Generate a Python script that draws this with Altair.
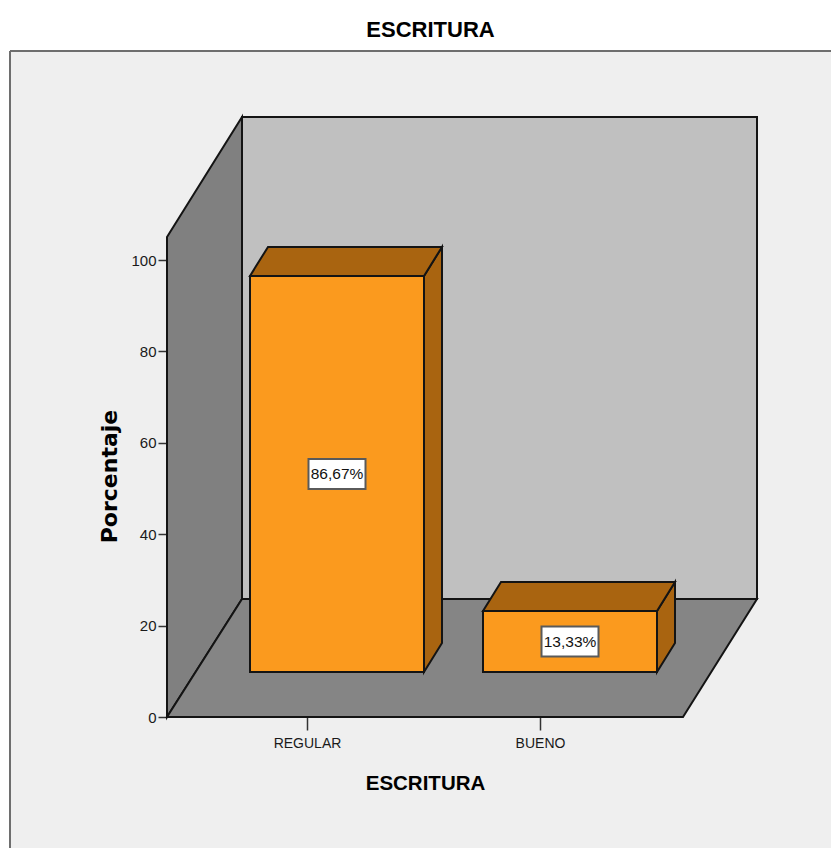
import altair as alt
import pandas as pd

categories = ["REGULAR", "BUENO"]
positions = [1, 2]
values = [86.67, 13.33]
y_ticks = [0, 20, 40, 60, 80, 100]
title_text = "ESCRITURA"
y_title = "Porcentaje"

# Scale set-up: the chart must fit 823 x 840 of page space
PAD_L, PAD_T = 2, 43
W, H = 821, 797
UX, UY = 233.0, 4.57
x_dom = [1 + (10 - 307) / UX, 1 + (10 + W - 307) / UX]
y_dom = [(717 - (51 + H)) / UY, (717 - 51) / UY]
xs = alt.Scale(domain=x_dom, nice=False, zero=False)
ys = alt.Scale(domain=y_dom, nice=False, zero=False)

# Room geometry in data units
room_left = 1 + (167 - 307) / UX
room_right = 1 + (683 - 307) / UX
room_dx = 75 / UX
room_dy = 118 / UY
wall_top = (717 - 237) / UY
half_bar = 87 / UX
bar_base = 45 / UY
bar_shift = 30 / UX
bar_dx = 18 / UX
bar_dy = 29 / UY

LINE = "#141414"
ORANGE = "#FB9A1E"
DARK = "#A96410"
FONT = "Liberation Sans"


def vert(df, fill):
    return alt.Chart(pd.DataFrame(df)).mark_area(
        orient="vertical", fill=fill, stroke=LINE, strokeWidth=2, opacity=1
    ).encode(
        x=alt.X("x:Q", scale=xs, axis=None),
        y=alt.Y("y:Q", scale=ys, axis=None),
        y2="y2:Q",
    )


def horiz(df, fill):
    return alt.Chart(pd.DataFrame(df)).mark_area(
        orient="horizontal", fill=fill, stroke=LINE, strokeWidth=2, opacity=1
    ).encode(
        y=alt.Y("y:Q", scale=ys, axis=None),
        x=alt.X("x:Q", scale=xs, axis=None),
        x2="x2:Q",
    )


# Axes layer (invisible points carry the axes)
axes = alt.Chart(pd.DataFrame({"x": positions, "y": values, "c": categories})).mark_point(opacity=0).encode(
    x=alt.X("x:Q", scale=xs, axis=alt.Axis(
        values=positions,
        labelExpr="datum.value == 1 ? 'REGULAR' : 'BUENO'",
        orient="bottom", offset=-(51 + H - 717), domain=False, grid=False,
        tickSize=13, tickColor="#333333", tickWidth=1.5,
        labelFont=FONT, labelFontSize=14, labelColor="#1a1a1a", labelPadding=6,
        title=title_text, titleFont=FONT, titleFontSize=20.5, titleFontWeight="bold",
        titleColor="#000000", titleX=415, titleY=72, titleAlign="center", titleBaseline="alphabetic",
    )),
    y=alt.Y("y:Q", scale=ys, axis=alt.Axis(
        values=y_ticks,
        orient="left", offset=-157, domain=False, grid=False,
        tickSize=9, tickColor="#333333", tickWidth=1.5,
        labelFont=FONT, labelFontSize=15, labelColor="#1a1a1a", labelPadding=2,
        title=y_title, titleFont="DejaVu Sans", titleFontSize=22, titleFontWeight="bold",
        titleColor="#000000", titleX=-51, titleY=425, titleAngle=270, titleAlign="center", titleBaseline="alphabetic",
    )),
)

# Panel border
panel_left = alt.Chart(pd.DataFrame({"x": [x_dom[0]]})).mark_rule(color="#6e6e6e", strokeWidth=2).encode(
    x=alt.X("x:Q", scale=xs, axis=None))
panel_top = alt.Chart(pd.DataFrame({"y": [y_dom[1]]})).mark_rule(color="#6e6e6e", strokeWidth=2).encode(
    y=alt.Y("y:Q", scale=ys, axis=None))

# Room
left_wall = vert({"x": [room_left, room_left + room_dx],
                  "y": [0, room_dy],
                  "y2": [wall_top, wall_top + 120 / UY]}, "#808080")
back_wall = vert({"x": [room_left + room_dx, room_right + room_dx - 1 / UX],
                  "y": [room_dy, room_dy],
                  "y2": [wall_top + 120 / UY, wall_top + 120 / UY]}, "#C0C0C0")
floor = horiz({"y": [0, room_dy],
               "x": [room_left, room_left + room_dx],
               "x2": [room_right, room_right + room_dx - 1 / UX]}, "#858585")

layers = [axes, panel_left, panel_top, left_wall, back_wall, floor]

# Bars
for p, v in zip(positions, values):
    xl = p - half_bar + bar_shift
    xr = p + half_bar + bar_shift
    top = bar_base + v
    side = vert({"x": [xr, xr + bar_dx],
                 "y": [bar_base, bar_base + bar_dy],
                 "y2": [top, top + bar_dy]}, DARK)
    cap = horiz({"y": [top, top + bar_dy],
                 "x": [xl, xl + bar_dx],
                 "x2": [xr, xr + bar_dx]}, DARK)
    layers += [side, cap]

bars = pd.DataFrame({
    "c": categories,
    "xl": [p - half_bar + bar_shift for p in positions],
    "xr": [p + half_bar + bar_shift for p in positions],
    "y0": [bar_base] * 2,
    "y1": [bar_base + v for v in values],
    "mx": [p + bar_shift for p in positions],
    "my": [bar_base + v / 2 for v in values],
    "label": [f"{v:.2f}".replace(".", ",") + "%" for v in values],
})
bars["bl"] = bars["mx"] - 28.5 / UX
bars["br"] = bars["mx"] + 28.5 / UX
bars["bb"] = bars["my"] - 15 / UY
bars["bt"] = bars["my"] + 15 / UY

front = alt.Chart(bars).mark_rect(fill=ORANGE, stroke=LINE, strokeWidth=2).encode(
    x=alt.X("xl:Q", scale=xs, axis=None), x2="xr:Q",
    y=alt.Y("y0:Q", scale=ys, axis=None), y2="y1:Q")
box = alt.Chart(bars).mark_rect(fill="#FFFFFF", stroke="#5a5a5a", strokeWidth=2).encode(
    x=alt.X("bl:Q", scale=xs, axis=None), x2="br:Q",
    y=alt.Y("bb:Q", scale=ys, axis=None), y2="bt:Q")
text = alt.Chart(bars).mark_text(font=FONT, fontSize=15.5, color="#111111", baseline="middle", align="center").encode(
    x=alt.X("mx:Q", scale=xs, axis=None),
    y=alt.Y("my:Q", scale=ys, axis=None),
    text="label:N")
layers += [front, box, text]

chart = alt.layer(*layers).resolve_axis(x="independent", y="independent").properties(
    width=W, height=H,
    title=alt.TitleParams(title_text, font=FONT, fontSize=22, fontWeight="bold", color="#000000",
                          anchor="middle", dx=10, offset=8),
    background="#FFFFFF",
    padding={"left": PAD_L, "top": PAD_T, "right": 0, "bottom": 0},
    autosize=alt.AutoSizeParams(type="none"),
).configure_view(fill="#EFEFEF", stroke=None)

chart.save("out.html", embed_options={"renderer": "svg", "actions": False})
